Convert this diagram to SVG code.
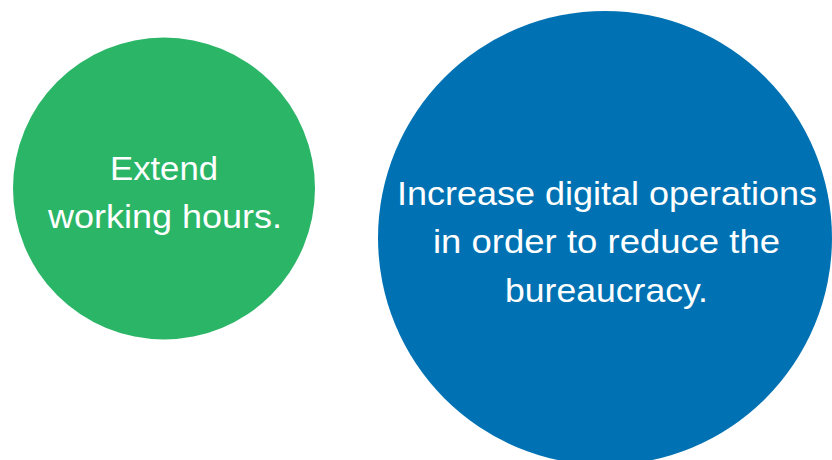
<svg xmlns="http://www.w3.org/2000/svg" width="832" height="460" viewBox="0 0 832 460">
<style>
.lbl{font-family:"Liberation Sans",Arial,sans-serif;font-size:34px;fill:#ffffff;text-anchor:middle}
</style>
<rect width="832" height="460" fill="#ffffff"/>
<g id="node-extend">
<circle cx="164" cy="188.5" r="151" fill="#2bb567"/>
<text class="lbl" x="164" y="180" textLength="108" lengthAdjust="spacingAndGlyphs">Extend</text>
<text class="lbl" x="165" y="228" textLength="234" lengthAdjust="spacingAndGlyphs">working hours.</text>
</g>
<g id="node-digital">
<circle cx="605" cy="238" r="227" fill="#0072b3"/>
<text class="lbl" x="607" y="205" textLength="420" lengthAdjust="spacingAndGlyphs">Increase digital operations</text>
<text class="lbl" x="606.5" y="253" textLength="347" lengthAdjust="spacingAndGlyphs">in order to reduce the</text>
<text class="lbl" x="606.5" y="302" textLength="203" lengthAdjust="spacingAndGlyphs">bureaucracy.</text>
</g>
<g id="connectors"/>
</svg>
